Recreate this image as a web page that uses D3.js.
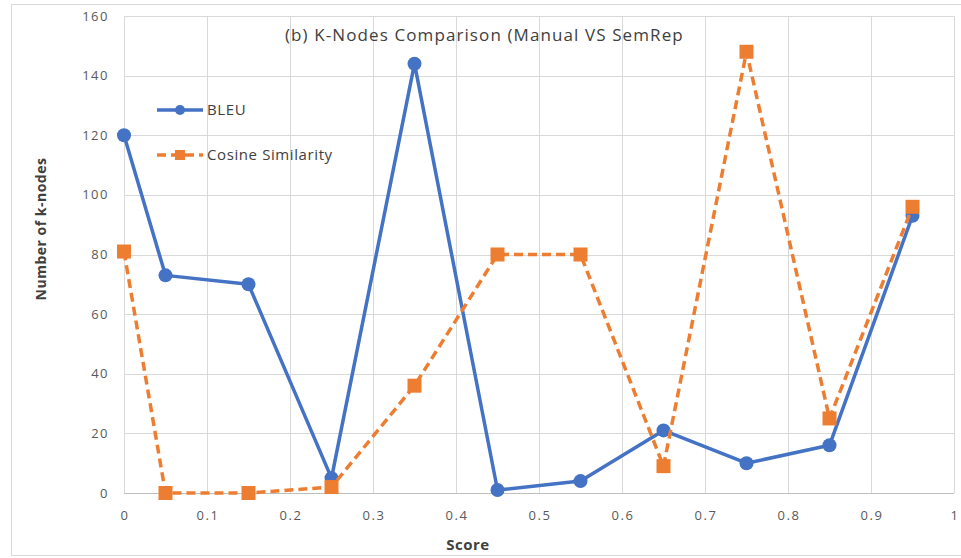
<!DOCTYPE html>
<html>
<head>
<meta charset="utf-8">
<script src="https://cdn.jsdelivr.net/npm/d3@7"></script>
<style>
  body { margin: 0; background: #ffffff; }
  text { font-family: "Open Sans", "Noto Sans", sans-serif; }
</style>
</head>
<body>
<div id="chart"></div>
<script>
// K-Nodes comparison chart

const scores = [0, 0.05, 0.15, 0.25, 0.35, 0.45, 0.55, 0.65, 0.75, 0.85, 0.95];
const bleuValues = [120, 73, 70, 5, 144, 1, 4, 21, 10, 16, 93];
const cosineValues = [81, 0, 0, 2, 36, 80, 80, 9, 148, 25, 96];
const xTicks = [0, 0.1, 0.2, 0.3, 0.4, 0.5, 0.6, 0.7, 0.8, 0.9, 1];
const yTicks = [0, 20, 40, 60, 80, 100, 120, 140, 160];
const seriesNames = ["BLEU", "Cosine Similarity"];
const chartTitle = "(b) K-Nodes Comparison (Manual VS SemRep";

const W = 961, H = 558;
const plot = {left: 124, right: 954, top: 16, bottom: 493};
const colorBleu = "#4472C4";
const colorCos = "#ED7D31";

const svg = d3.select("#chart").append("svg")
    .attr("width", W)
    .attr("height", H);

svg.append("rect")
    .attr("width", W).attr("height", H)
    .attr("fill", "#ffffff");

// outer chart border
svg.append("rect")
    .attr("x", 11.5).attr("y", 4.5)
    .attr("width", W + 20).attr("height", 551)
    .attr("fill", "none")
    .attr("stroke", "#d9d9d9");

const x = d3.scaleLinear().domain([0, 1]).range([plot.left, plot.right]);
const y = d3.scaleLinear().domain([0, 160]).range([plot.bottom, plot.top]);

// gridlines
svg.append("g")
    .selectAll("line")
    .data(yTicks)
    .enter().append("line")
    .attr("x1", plot.left).attr("x2", plot.right)
    .attr("y1", d => Math.round(y(d)) + 0.5)
    .attr("y2", d => Math.round(y(d)) + 0.5)
    .attr("stroke", d => d === 0 ? "#bfbfbf" : "#d9d9d9");

svg.append("g")
    .selectAll("line")
    .data(xTicks)
    .enter().append("line")
    .attr("y1", plot.top).attr("y2", plot.bottom)
    .attr("x1", d => Math.round(x(d)) + 0.5)
    .attr("x2", d => Math.round(x(d)) + 0.5)
    .attr("stroke", "#d9d9d9");

// tick labels
svg.append("g")
    .selectAll("text")
    .data(yTicks)
    .enter().append("text")
    .attr("x", plot.left - 15)
    .attr("y", d => y(d))
    .attr("dy", "0.35em")
    .attr("text-anchor", "end")
    .attr("font-size", 13)
    .attr("letter-spacing", 1.5)
    .attr("fill", "#595959")
    .text(d => d);

svg.append("g")
    .selectAll("text")
    .data(xTicks)
    .enter().append("text")
    .attr("x", d => x(d) + 1)
    .attr("y", plot.bottom + 27)
    .attr("text-anchor", "middle")
    .attr("font-size", 13)
    .attr("letter-spacing", 1.5)
    .attr("fill", "#595959")
    .text(d => d);

// axis titles
svg.append("text")
    .attr("x", 468)
    .attr("y", 550)
    .attr("text-anchor", "middle")
    .attr("font-size", 15)
    .attr("font-weight", "bold")
    .attr("letter-spacing", 0.5)
    .attr("fill", "#404040")
    .text("Score");

svg.append("text")
    .attr("transform", "translate(46,229) rotate(-90)")
    .attr("text-anchor", "middle")
    .attr("font-size", 14)
    .attr("font-weight", "bold")
    .attr("letter-spacing", 0.5)
    .attr("fill", "#404040")
    .text("Number of k-nodes");

// chart title
svg.append("text")
    .attr("x", 285)
    .attr("y", 41)
    .attr("font-size", 17)
    .attr("letter-spacing", 1.1)
    .attr("fill", "#404040")
    .text(chartTitle);

const line = d3.line()
    .x((d, i) => x(scores[i]))
    .y(d => y(d));

// BLEU series
svg.append("path")
    .datum(bleuValues)
    .attr("d", line)
    .attr("fill", "none")
    .attr("stroke", colorBleu)
    .attr("stroke-width", 3.5)
    .attr("stroke-linejoin", "round");

svg.append("g")
    .selectAll("circle")
    .data(bleuValues)
    .enter().append("circle")
    .attr("cx", (d, i) => x(scores[i]))
    .attr("cy", d => y(d))
    .attr("r", 7)
    .attr("fill", colorBleu);

// Cosine series
svg.append("path")
    .datum(cosineValues)
    .attr("d", line)
    .attr("fill", "none")
    .attr("stroke", colorCos)
    .attr("stroke-width", 3.5)
    .attr("stroke-dasharray", "9,5");

svg.append("g")
    .selectAll("rect")
    .data(cosineValues)
    .enter().append("rect")
    .attr("x", (d, i) => x(scores[i]) - 7)
    .attr("y", d => y(d) - 7)
    .attr("width", 14)
    .attr("height", 14)
    .attr("fill", colorCos);

// legend
const legend = svg.append("g")
    .selectAll("g")
    .data(seriesNames)
    .enter().append("g")
    .attr("transform", (d, i) => `translate(157,${110 + i * 45})`);

legend.append("line")
    .attr("x1", 0).attr("x2", 46)
    .attr("stroke", (d, i) => i === 0 ? colorBleu : colorCos)
    .attr("stroke-width", 3.5)
    .attr("stroke-dasharray", (d, i) => i === 0 ? null : "9,5");

legend.append("circle")
    .filter((d, i) => i === 0)
    .attr("cx", 23).attr("r", 5)
    .attr("fill", colorBleu);

legend.append("rect")
    .filter((d, i) => i === 1)
    .attr("x", 18).attr("y", -5)
    .attr("width", 10).attr("height", 10)
    .attr("fill", colorCos);

legend.append("text")
    .attr("x", 50)
    .attr("dy", "0.35em")
    .attr("font-size", 15)
    .attr("letter-spacing", 0.6)
    .attr("fill", "#404040")
    .text(d => d);
</script>
</body>
</html>
